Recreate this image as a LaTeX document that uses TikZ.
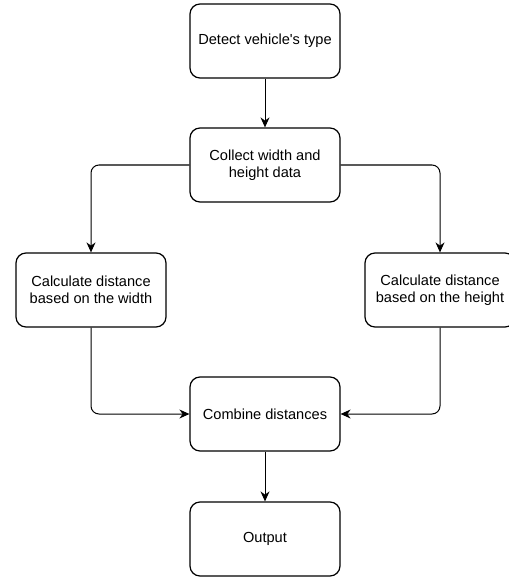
\documentclass[tikz,border=0pt]{standalone}
\usepackage{fontspec}
\setmainfont{Liberation Sans}
\usetikzlibrary{arrows.meta}
\begin{document}
\begin{tikzpicture}[x=1pt,y=-1pt,
  box/.style={draw, line width=1.2pt, rounded corners=10pt, minimum width=150pt, minimum height=74pt, align=center, inner sep=0pt, font=\fontsize{14.6}{17}\selectfont},
  conn/.style={line width=1pt, rounded corners=8pt, -{Stealth[length=10pt,width=9pt]}}]
\useasboundingbox (0,0) rectangle (508,580);
\node[box] (detect) at (265,41) {Detect vehicle\textquotesingle s type};
\node[box] (collect) at (265,165) {Collect width and\\height data};
\node[box] (wcalc) at (91,290) {Calculate distance\\based on the width};
\node[box] (hcalc) at (440,290) {Calculate distance\\based on the height};
\node[box] (combine) at (265,414) {Combine distances};
\node[box] (output) at (265,539) {Output};
\draw[conn] (detect) -- (collect);
\draw[conn] (collect.west) -| (wcalc.north);
\draw[conn] (collect.east) -| (hcalc.north);
\draw[conn] (wcalc.south) |- (combine.west);
\draw[conn] (hcalc.south) |- (combine.east);
\draw[conn] (combine) -- (output);
\end{tikzpicture}
\end{document}
